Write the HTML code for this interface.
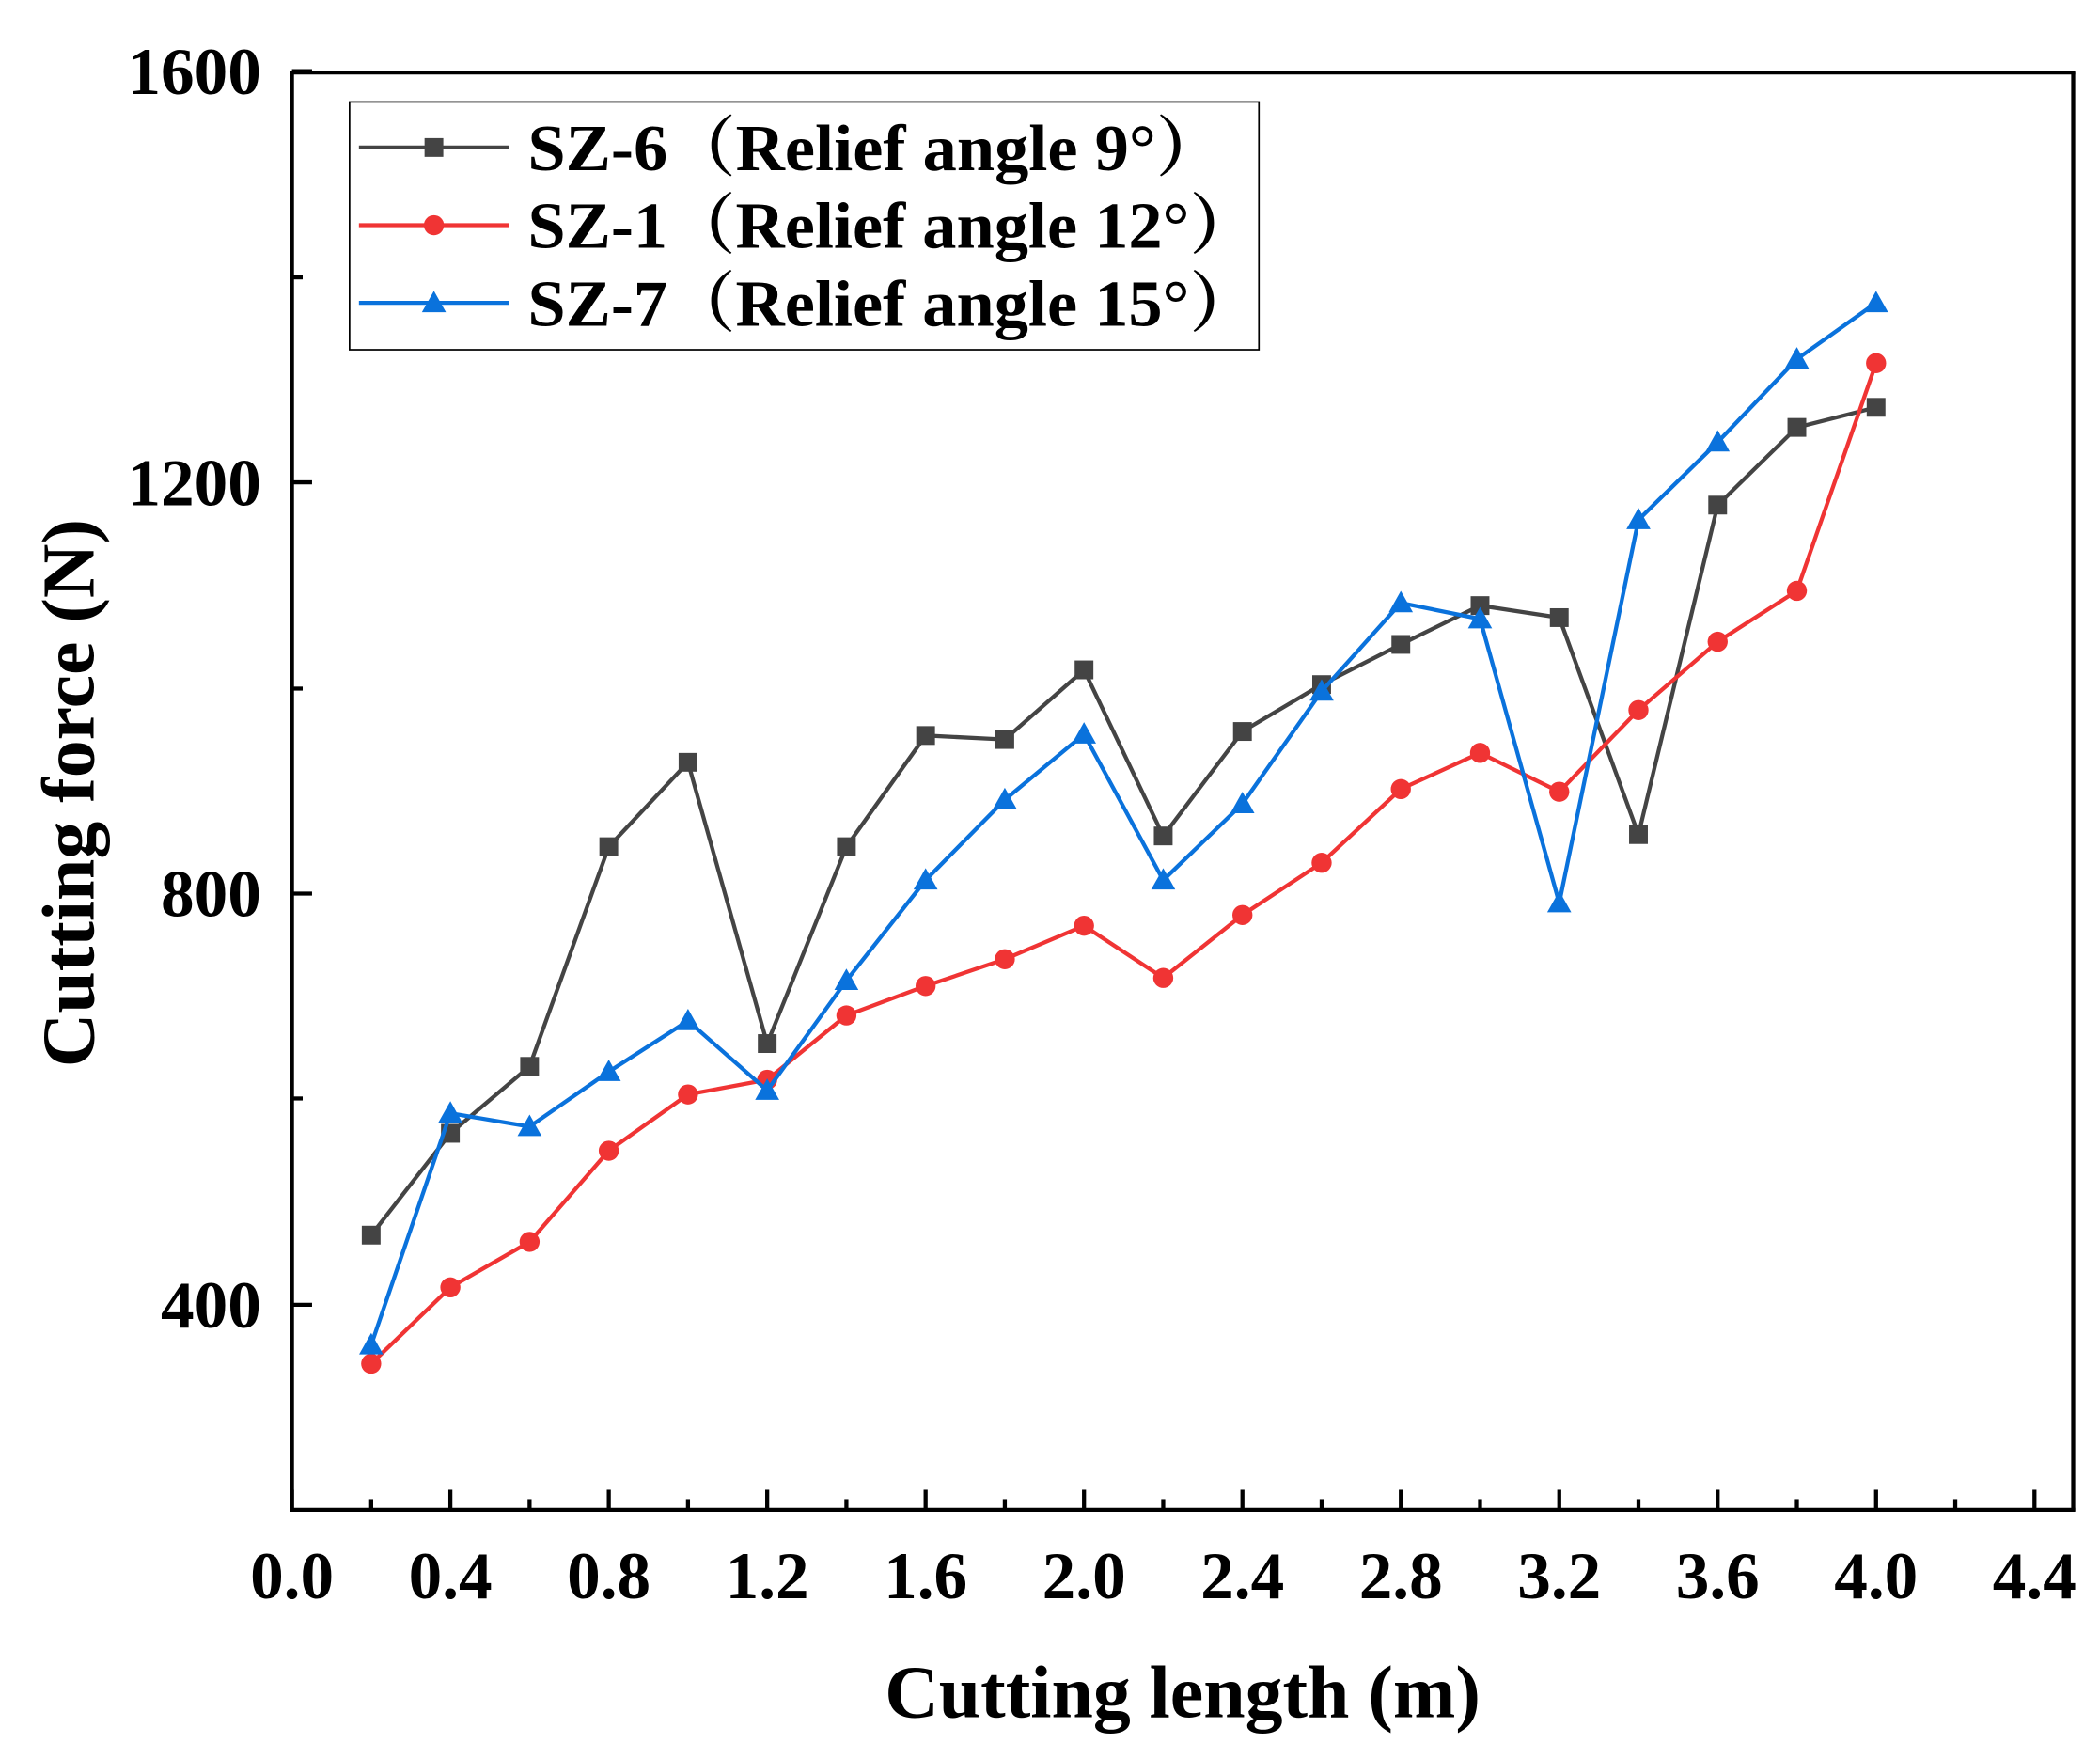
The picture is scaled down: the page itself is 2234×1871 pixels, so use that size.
<!DOCTYPE html>
<html><head><meta charset="utf-8"><style>html,body{margin:0;padding:0;background:#fff}svg{display:block}</style></head>
<body>
<svg width="2234" height="1871" viewBox="0 0 1568 1313" xmlns="http://www.w3.org/2000/svg" font-family="Liberation Serif, 'Noto Serif CJK SC', serif" font-weight="bold">
<rect width="1568" height="1313" fill="#fff"/>
<g stroke="#000" stroke-width="3">
<line x1="216.5" y1="54" x2="1549.5" y2="54"/>
<line x1="1548" y1="54" x2="1548" y2="1128"/>
<line x1="216.5" y1="1127" x2="1549.5" y2="1127"/>
<line x1="218" y1="54" x2="218" y2="1128"/>
</g>
<g id="ticks" stroke="#000" stroke-width="3"></g>
<g id="lbl" font-size="50" fill="#000"></g>
<text x="883" y="1282" font-size="56" text-anchor="middle">Cutting length (m)</text>
<text transform="translate(70,592) rotate(-90)" font-size="56" text-anchor="middle">Cutting force (N)</text>
<g id="series"></g>
<rect x="261" y="76" width="679" height="185" fill="#fff" stroke="#000" stroke-width="1.2"/>
<g font-size="49">
<line x1="268" y1="110" x2="380" y2="110" stroke="#444" stroke-width="3"/><rect x="317" y="103" width="14" height="14" fill="#444"/>
<text x="394" y="127" textLength="520" lengthAdjust="spacingAndGlyphs">SZ-6（Relief angle 9°）</text>
<line x1="268" y1="168" x2="380" y2="168" stroke="#f03434" stroke-width="3"/><circle cx="324" cy="168" r="7.5" fill="#f03434"/>
<text x="394" y="185" textLength="545" lengthAdjust="spacingAndGlyphs">SZ-1（Relief angle 12°）</text>
<line x1="268" y1="226" x2="380" y2="226" stroke="#0a72dc" stroke-width="3"/><polygon points="324,217 333,233 315,233" fill="#0a72dc"/>
<text x="394" y="243" textLength="545" lengthAdjust="spacingAndGlyphs">SZ-7（Relief angle 15°）</text>
</g>
<script>
var ns="http://www.w3.org/2000/svg";
function el(p,t,a,txt){var e=document.createElementNS(ns,t);for(var k in a)e.setAttribute(k,a[k]);if(txt!=null)e.textContent=txt;p.appendChild(e);return e;}
var tk=document.getElementById('ticks'),lb=document.getElementById('lbl'),se=document.getElementById('series');
var x0=218,dx=59.14;
for(var i=0;i<=22;i++){var x=x0+i*dx,maj=i%2==0;el(tk,'line',{x1:x,y1:1127,x2:x,y2:1127-(maj?15:8)});
if(maj)el(lb,'text',{x:x,y:1193,'text-anchor':'middle'},(i*0.2).toFixed(1));}
var ys=[[53,1600],[360,1200],[667,800],[974,400]];
ys.forEach(function(p){el(tk,'line',{x1:218,y1:p[0],x2:233,y2:p[0]});el(lb,'text',{x:195,y:p[0]+17,'text-anchor':'end'},p[1]);});
[207,514,820].forEach(function(y){el(tk,'line',{x1:218,y1:y,x2:226,y2:y});});
var d6=[922,846,796,632,569,779,632,549,552,500,624,546,511,481,452,461,623,377,319,304];
var d1=[1018,961,927,859,817,806,758,736,716,691,730,683,644,589,562,591,530,479,441,271];
var d7=[1004,831,841,800,762,814,732,657,597,548,657,600,516,450,462,674,388,330,268,226];
function ser(d,c,m){var pts=d.map(function(y,i){return (x0+(i+1)*dx)+','+y;}).join(' ');
el(se,'polyline',{points:pts,fill:'none',stroke:c,'stroke-width':3});
d.forEach(function(y,i){var x=x0+(i+1)*dx;
if(m=='s')el(se,'rect',{x:x-7,y:y-7,width:14,height:14,fill:c});
else if(m=='c')el(se,'circle',{cx:x,cy:y,r:7.5,fill:c});
else el(se,'polygon',{points:x+','+(y-9)+' '+(x+9)+','+(y+7)+' '+(x-9)+','+(y+7),fill:c});});}
ser(d6,'#444','s');ser(d1,'#f03434','c');ser(d7,'#0a72dc','t');
</script>
</svg>
</body></html>
